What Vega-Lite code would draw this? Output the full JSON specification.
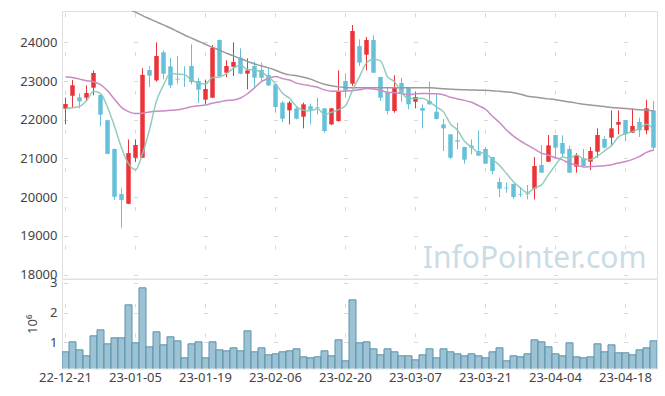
{
"$schema": "https://vega.github.io/schema/vega-lite/v6.json",
"padding": {"left": 19, "top": 10, "right": 8, "bottom": 8},
"bounds": "flush",
"spacing": 0,
"config": {
  "font": "Noto Sans",
  "view": {"stroke": "#e0e0e0"},
  "axis": {"labelFont": "Noto Sans", "labelFontSize": 13, "labelColor": "#444", "titleFont": "Noto Sans", "titleFontSize": 13, "titleFontWeight": "normal", "titleColor": "#444", "domain": false, "ticks": false, "tickSize": 0, "gridColor": "#d8d8d8", "gridWidth": 1}
},
"data": {"values": [
{"d":"22-12-21","o":22287,"h":22571,"l":21882,"c":22407,"v":677000,"m5":22290,"m20":23110,"m60":25600},
{"d":"22-12-22","o":22620,"h":23030,"l":22330,"c":22890,"v":1013000,"m5":22310,"m20":23090,"m60":25520},
{"d":"22-12-23","o":22579,"h":22683,"l":22295,"c":22476,"v":744000,"m5":22345,"m20":23050,"m60":25440},
{"d":"22-12-26","o":22571,"h":22889,"l":22485,"c":22691,"v":542000,"m5":22490,"m20":23010,"m60":25350},
{"d":"22-12-27","o":22829,"h":23277,"l":22631,"c":23208,"v":1215000,"m5":22734,"m20":22980,"m60":25270},
{"d":"22-12-28","o":22640,"h":22650,"l":21830,"c":22132,"v":1417000,"m5":22679,"m20":22910,"m60":25190},
{"d":"22-12-29","o":21990,"h":22000,"l":21110,"c":21120,"v":946000,"m5":22325,"m20":22750,"m60":25100},
{"d":"23-01-02","o":21245,"h":21260,"l":19930,"c":20010,"v":1148000,"m5":21832,"m20":22530,"m60":25020},
{"d":"23-01-03","o":20080,"h":20230,"l":19210,"c":19930,"v":1148000,"m5":21280,"m20":22320,"m60":24940},
{"d":"23-01-04","o":19830,"h":21490,"l":19820,"c":21140,"v":2259000,"m5":20866,"m20":22210,"m60":24860},
{"d":"23-01-05","o":21020,"h":21494,"l":20909,"c":21348,"v":980000,"m5":20710,"m20":22160,"m60":24780},
{"d":"23-01-06","o":21020,"h":23330,"l":21010,"c":23160,"v":2832000,"m5":21118,"m20":22170,"m60":24690},
{"d":"23-01-09","o":23285,"h":23389,"l":22846,"c":23139,"v":845000,"m5":21743,"m20":22200,"m60":24610},
{"d":"23-01-10","o":23018,"h":24000,"l":22984,"c":23647,"v":1350000,"m5":22487,"m20":22220,"m60":24530},
{"d":"23-01-11","o":23742,"h":23793,"l":23044,"c":23191,"v":912000,"m5":22897,"m20":22230,"m60":24450},
{"d":"23-01-12","o":23380,"h":23600,"l":22820,"c":22889,"v":1182000,"m5":23205,"m20":22245,"m60":24370},
{"d":"23-01-13","o":23060,"h":23647,"l":22930,"c":23040,"v":1047000,"m5":23181,"m20":22260,"m60":24280},
{"d":"23-01-16","o":23060,"h":23380,"l":22850,"c":23050,"v":475000,"m5":23163,"m20":22295,"m60":24190},
{"d":"23-01-17","o":23389,"h":23948,"l":22915,"c":22975,"v":946000,"m5":23029,"m20":22335,"m60":24110},
{"d":"23-01-18","o":23001,"h":23087,"l":22433,"c":22777,"v":1013000,"m5":22946,"m20":22361,"m60":24030},
{"d":"23-01-19","o":22519,"h":23036,"l":22399,"c":22795,"v":475000,"m5":22927,"m20":22380,"m60":23950},
{"d":"23-01-20","o":22571,"h":23931,"l":22560,"c":23862,"v":1013000,"m5":23092,"m20":22429,"m60":23870},
{"d":"23-01-25","o":24060,"h":24077,"l":23087,"c":23130,"v":744000,"m5":23108,"m20":22462,"m60":23800},
{"d":"23-01-26","o":23216,"h":23535,"l":23105,"c":23389,"v":710000,"m5":23191,"m20":22497,"m60":23720},
{"d":"23-01-27","o":23371,"h":24000,"l":23130,"c":23492,"v":811000,"m5":23334,"m20":22511,"m60":23650},
{"d":"23-01-30","o":23604,"h":23845,"l":23173,"c":23191,"v":710000,"m5":23413,"m20":22564,"m60":23580},
{"d":"23-01-31","o":23191,"h":23587,"l":22786,"c":23277,"v":1384000,"m5":23296,"m20":22672,"m60":23510},
{"d":"23-02-01","o":23389,"h":23501,"l":22846,"c":23087,"v":677000,"m5":23287,"m20":22825,"m60":23440},
{"d":"23-02-02","o":23285,"h":23475,"l":23001,"c":23087,"v":811000,"m5":23227,"m20":22983,"m60":23390},
{"d":"23-02-03","o":23156,"h":23346,"l":22872,"c":22889,"v":576000,"m5":23106,"m20":23071,"m60":23340},
{"d":"23-02-06","o":22915,"h":22920,"l":22183,"c":22330,"v":609000,"m5":22934,"m20":23120,"m60":23280},
{"d":"23-02-07","o":22442,"h":22485,"l":21942,"c":22028,"v":677000,"m5":22684,"m20":23063,"m60":23210},
{"d":"23-02-08","o":22244,"h":22485,"l":21882,"c":22442,"v":710000,"m5":22555,"m20":23028,"m60":23160},
{"d":"23-02-09","o":22295,"h":22330,"l":22011,"c":22028,"v":778000,"m5":22343,"m20":22947,"m60":23140},
{"d":"23-02-10","o":22080,"h":22442,"l":21779,"c":22399,"v":508000,"m5":22245,"m20":22908,"m60":23100},
{"d":"23-02-13","o":22350,"h":22420,"l":21880,"c":22260,"v":475000,"m5":22231,"m20":22876,"m60":23050},
{"d":"23-02-14","o":22320,"h":22570,"l":22140,"c":22300,"v":508000,"m5":22286,"m20":22839,"m60":22980},
{"d":"23-02-15","o":22295,"h":22300,"l":21667,"c":21710,"v":710000,"m5":22139,"m20":22772,"m60":22920},
{"d":"23-02-16","o":21882,"h":22300,"l":21865,"c":22295,"v":542000,"m5":22193,"m20":22738,"m60":22880},
{"d":"23-02-17","o":21968,"h":23277,"l":21951,"c":22743,"v":1081000,"m5":22262,"m20":22737,"m60":22850},
{"d":"23-02-20","o":23001,"h":23199,"l":22571,"c":22760,"v":374000,"m5":22362,"m20":22735,"m60":22835},
{"d":"23-02-21","o":22932,"h":24448,"l":22872,"c":24293,"v":2428000,"m5":22760,"m20":22757,"m60":22830},
{"d":"23-02-22","o":23905,"h":24077,"l":23389,"c":23475,"v":980000,"m5":23113,"m20":22774,"m60":22830},
{"d":"23-02-23","o":23681,"h":24138,"l":23277,"c":24060,"v":1013000,"m5":23466,"m20":22807,"m60":22830},
{"d":"23-02-24","o":24060,"h":24181,"l":23210,"c":23216,"v":778000,"m5":23561,"m20":22794,"m60":22830},
{"d":"23-02-27","o":23105,"h":23110,"l":22485,"c":22571,"v":576000,"m5":23523,"m20":22763,"m60":22830},
{"d":"23-02-28","o":22700,"h":22829,"l":22140,"c":22226,"v":778000,"m5":23110,"m20":22710,"m60":22830},
{"d":"23-03-02","o":22226,"h":23148,"l":22183,"c":22846,"v":677000,"m5":22984,"m20":22698,"m60":22830},
{"d":"23-03-03","o":22950,"h":23087,"l":22459,"c":22700,"v":542000,"m5":22712,"m20":22679,"m60":22830},
{"d":"23-03-06","o":22846,"h":22850,"l":22269,"c":22399,"v":542000,"m5":22548,"m20":22654,"m60":22825},
{"d":"23-03-07","o":22467,"h":22726,"l":22295,"c":22588,"v":407000,"m5":22552,"m20":22667,"m60":22825},
{"d":"23-03-08","o":22304,"h":22399,"l":21779,"c":22235,"v":576000,"m5":22554,"m20":22677,"m60":22825},
{"d":"23-03-09","o":22485,"h":22984,"l":22390,"c":22399,"v":778000,"m5":22464,"m20":22675,"m60":22825},
{"d":"23-03-10","o":22209,"h":22674,"l":22010,"c":22020,"v":475000,"m5":22328,"m20":22675,"m60":22815},
{"d":"23-03-13","o":21882,"h":22020,"l":21193,"c":21779,"v":778000,"m5":22204,"m20":22644,"m60":22800},
{"d":"23-03-14","o":21624,"h":21630,"l":20987,"c":21021,"v":677000,"m5":21891,"m20":22582,"m60":22790},
{"d":"23-03-15","o":21469,"h":21925,"l":21236,"c":21434,"v":609000,"m5":21731,"m20":22539,"m60":22780},
{"d":"23-03-16","o":21296,"h":21300,"l":20866,"c":20969,"v":542000,"m5":21445,"m20":22501,"m60":22775},
{"d":"23-03-17","o":21331,"h":21494,"l":21107,"c":21279,"v":609000,"m5":21296,"m20":22451,"m60":22770},
{"d":"23-03-20","o":21193,"h":21727,"l":21060,"c":21073,"v":542000,"m5":21155,"m20":22367,"m60":22765},
{"d":"23-03-21","o":21245,"h":21296,"l":20860,"c":20866,"v":475000,"m5":21124,"m20":22272,"m60":22760},
{"d":"23-03-22","o":21038,"h":21040,"l":20590,"c":20677,"v":677000,"m5":20973,"m20":22092,"m60":22750},
{"d":"23-03-23","o":20392,"h":20504,"l":20005,"c":20220,"v":811000,"m5":20823,"m20":21929,"m60":22735},
{"d":"23-03-24","o":20246,"h":20375,"l":20117,"c":20229,"v":374000,"m5":20613,"m20":21737,"m60":22720},
{"d":"23-03-27","o":20341,"h":20350,"l":19962,"c":20005,"v":542000,"m5":20399,"m20":21577,"m60":22700},
{"d":"23-03-28","o":20083,"h":20246,"l":20005,"c":20065,"v":508000,"m5":20239,"m20":21452,"m60":22660},
{"d":"23-03-29","o":20100,"h":20315,"l":19945,"c":20074,"v":609000,"m5":20119,"m20":21344,"m60":22610},
{"d":"23-03-30","o":20220,"h":21038,"l":19945,"c":20806,"v":1081000,"m5":20236,"m20":21242,"m60":22590},
{"d":"23-03-31","o":20832,"h":21348,"l":20630,"c":20633,"v":1013000,"m5":20317,"m20":21139,"m60":22560},
{"d":"23-04-03","o":20918,"h":21606,"l":20910,"c":21340,"v":845000,"m5":20584,"m20":21086,"m60":22540},
{"d":"23-04-04","o":21606,"h":21610,"l":21038,"c":21279,"v":609000,"m5":20826,"m20":21020,"m60":22520},
{"d":"23-04-05","o":21400,"h":21598,"l":21038,"c":21124,"v":542000,"m5":21036,"m20":20965,"m60":22490},
{"d":"23-04-06","o":21245,"h":21331,"l":20630,"c":20633,"v":980000,"m5":21002,"m20":20876,"m60":22460},
{"d":"23-04-07","o":20788,"h":21141,"l":20633,"c":21090,"v":508000,"m5":21093,"m20":20830,"m60":22430},
{"d":"23-04-10","o":21004,"h":21245,"l":20800,"c":20806,"v":475000,"m5":20986,"m20":20781,"m60":22400},
{"d":"23-04-11","o":20918,"h":21296,"l":20702,"c":21193,"v":508000,"m5":20969,"m20":20790,"m60":22380},
{"d":"23-04-12","o":21176,"h":21779,"l":21021,"c":21606,"v":946000,"m5":21066,"m20":20798,"m60":22360},
{"d":"23-04-13","o":21503,"h":21572,"l":21262,"c":21279,"v":677000,"m5":21195,"m20":20814,"m60":22340},
{"d":"23-04-14","o":21538,"h":22244,"l":21348,"c":21779,"v":912000,"m5":21333,"m20":20839,"m60":22320},
{"d":"23-04-17","o":21873,"h":22244,"l":21624,"c":21942,"v":643000,"m5":21560,"m20":20882,"m60":22305},
{"d":"23-04-18","o":21994,"h":22000,"l":21451,"c":21624,"v":643000,"m5":21646,"m20":20920,"m60":22290},
{"d":"23-04-19","o":21667,"h":22295,"l":21660,"c":21839,"v":576000,"m5":21693,"m20":20978,"m60":22275},
{"d":"23-04-20","o":21942,"h":22054,"l":21555,"c":21727,"v":744000,"m5":21782,"m20":21054,"m60":22260},
{"d":"23-04-21","o":21727,"h":22519,"l":21624,"c":22295,"v":811000,"m5":21885,"m20":21157,"m60":22245},
{"d":"23-04-24","o":22244,"h":22485,"l":21193,"c":21279,"v":1047000,"m5":21753,"m20":21221,"m60":22230}
]},
"vconcat": [
{
  "width": 595,
  "height": 267.5,
  "encoding": {
    "x": {"field": "d", "type": "ordinal", "sort": "ascending", "scale": {"paddingInner": 0, "paddingOuter": 0},
          "axis": {"labels": false, "title": null, "grid": true, "gridDash": [4, 34.71], "gridDashOffset": 36.84,
                   "values": ["22-12-21","23-01-05","23-01-19","23-02-06","23-02-20","23-03-07","23-03-21","23-04-04","23-04-18"]}}
  },
  "layer": [
    {
      "data": {"values": [{"t": "InfoPointer.com", "d": "23-04-21"}]},
      "mark": {"type": "text", "font": "Noto Sans", "fontSize": 30, "color": "#c9dce6", "align": "right", "baseline": "alphabetic"},
      "encoding": {
        "y": {"datum": 18180, "type": "quantitative"},
        "text": {"field": "t"}
      }
    },
    {
      "mark": {"type": "rule", "strokeWidth": 1},
      "encoding": {
        "y": {"field": "l", "type": "quantitative", "scale": {"domain": [17900, 24810], "nice": false, "zero": false},
              "axis": {"title": null, "values": [18000,19000,20000,21000,22000,23000,24000], "format": "d", "labelPadding": 5,
                       "grid": true, "gridDash": [4, 66], "gridDashOffset": 68.5}},
        "y2": {"field": "h"},
        "color": {"condition": {"test": "datum.c >= datum.o", "value": "#ec3338"}, "value": "#67c0d9"}
      }
    },
    {
      "mark": {"type": "bar", "size": 4.5},
      "encoding": {
        "y": {"field": "o", "type": "quantitative"},
        "y2": {"field": "c"},
        "color": {"condition": {"test": "datum.c >= datum.o", "value": "#ec3338"}, "value": "#67c0d9"}
      }
    },
    {
      "mark": {"type": "line", "clip": true, "interpolate": "monotone", "color": "#999999", "strokeWidth": 1.5},
      "encoding": {"y": {"field": "m60", "type": "quantitative"}}
    },
    {
      "mark": {"type": "line", "clip": true, "interpolate": "monotone", "color": "#c98bc5", "strokeWidth": 1.5},
      "encoding": {"y": {"field": "m20", "type": "quantitative"}}
    },
    {
      "mark": {"type": "line", "clip": true, "interpolate": "monotone", "color": "#86c8b8", "strokeWidth": 1.5, "opacity": 0.9},
      "encoding": {"y": {"field": "m5", "type": "quantitative"}}
    }
  ]
},
{
  "width": 595,
  "height": 89.5,
  "mark": {"type": "bar", "clip": true, "fill": "#9cc2d4", "stroke": "#5b93ab", "strokeWidth": 1},
  "encoding": {
    "x": {"field": "d", "type": "ordinal", "sort": "ascending", "scale": {"paddingInner": 0, "paddingOuter": 0},
          "axis": {"title": null, "labelAngle": 0, "labelPadding": 3, "grid": true, "gridDash": [4, 25.68], "gridDashOffset": 5.41,
                   "values": ["22-12-21","23-01-05","23-01-19","23-02-06","23-02-20","23-03-07","23-03-21","23-04-04","23-04-18"]}},
    "y": {"field": "v", "type": "quantitative", "scale": {"domain": [115000, 3130000], "nice": false, "zero": false},
          "axis": {"title": "10⁶", "titlePadding": 10, "values": [1000000, 2000000, 3000000], "labelExpr": "datum.value / 1000000",
                   "labelPadding": 5, "grid": true, "gridDash": [4, 66], "gridDashOffset": 68.5}}
  }
}
]
}
